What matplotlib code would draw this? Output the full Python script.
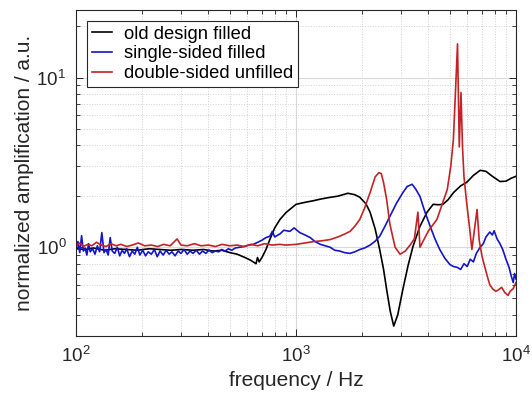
import matplotlib
matplotlib.use('Agg')
import matplotlib.pyplot as plt
from matplotlib import ticker

plt.rcParams['font.family'] = ['Liberation Sans', 'DejaVu Sans']
plt.rcParams['mathtext.fontset'] = 'custom'
plt.rcParams['mathtext.rm'] = 'Liberation Sans'
plt.rcParams['mathtext.it'] = 'Liberation Sans'

# old design filled
f_black = [100, 110, 120, 135, 150, 170, 190, 215, 240, 270, 300, 340, 380, 420, 460,
           500, 540, 586, 620, 658, 668, 680, 700, 730, 760, 800, 846, 900, 937, 1000,
           1100, 1200, 1288, 1400, 1550, 1720, 1850, 1950, 2080, 2170, 2290, 2400, 2500,
           2580, 2680, 2780, 2900, 3060, 3230, 3400, 3650, 3940, 4200, 4450, 4652, 4900,
           5200, 5600, 5960, 6400, 6870, 7300, 7800, 8450, 9000, 9500, 10000]
a_black = [0.98, 0.97, 0.99, 0.96, 0.98, 0.97, 0.96, 0.98, 0.97, 0.96, 0.97, 0.96, 0.97, 0.95, 0.96,
           0.93, 0.91, 0.87, 0.84, 0.80, 0.87, 0.82, 0.87, 0.97, 1.11, 1.30, 1.46, 1.60, 1.67, 1.79,
           1.84, 1.88, 1.92, 1.96, 2.00, 2.08, 2.04, 1.97, 1.80, 1.61, 1.28, 0.97, 0.74,
           0.566, 0.42, 0.343, 0.40, 0.566, 0.78, 1.01, 1.32, 1.61, 1.79, 1.78, 1.79, 1.90,
           2.10, 2.30, 2.41, 2.65, 2.84, 2.80, 2.62, 2.44, 2.45, 2.55, 2.62]

# single-sided filled
f_blue = [100, 102, 104, 106, 108, 110, 112, 114, 116, 119, 122, 125, 128, 131, 134, 137, 140,
          143, 146, 150, 154, 158, 162, 166, 170, 175, 180, 185, 190, 195, 201, 207, 213, 220,
          227, 234, 241, 249, 257, 265, 273, 282, 291, 300, 310, 320, 330, 340, 352, 364, 376,
          389, 402, 416, 430, 445, 460, 476, 493, 510, 530, 556, 580, 610, 640, 670, 700, 730,
          760, 780, 800, 846, 880, 937, 980, 1040, 1100, 1160, 1220, 1290, 1360, 1430, 1500,
          1580, 1660, 1760, 1850, 1950, 2050, 2170, 2280, 2400, 2530, 2670, 2850, 3060, 3200,
          3370, 3500, 3660, 3850, 4070, 4280, 4500, 4750, 5010, 5200, 5420, 5600, 5800, 6000,
          6190, 6400, 6600, 6870, 7100, 7300, 7600, 7800, 7950, 8200, 8450, 8700, 9000, 9300,
          9500, 9710, 9850, 10000]
a_blue = [0.97, 1.08, 0.93, 1.17, 0.95, 0.99, 0.90, 1.05, 0.94, 0.98, 0.91, 1.02, 0.94, 1.22, 0.93, 0.97, 0.90,
          1.14, 0.95, 0.92, 1.00, 0.89, 0.96, 0.92, 0.98, 0.88, 0.95, 0.91, 1.00, 0.90, 0.96, 0.89, 0.94, 0.91,
          0.97, 0.88, 0.95, 0.90, 0.96, 0.91, 0.94, 0.89, 0.95, 0.92, 0.97, 0.91, 0.95, 0.92, 0.96, 0.91, 0.95,
          0.92, 0.96, 0.93, 0.95, 0.94, 0.97, 0.95, 0.98, 0.96, 0.99, 1.00, 1.01, 1.03, 1.04, 1.07, 1.10, 1.14,
          1.16, 1.24, 1.15, 1.20, 1.26, 1.24, 1.30, 1.22, 1.18, 1.14, 1.08, 1.04, 1.02, 1.00, 0.96,
          0.95, 0.93, 0.92, 0.94, 0.97, 0.99, 1.03, 1.08, 1.16, 1.32, 1.52, 1.80, 2.10, 2.28,
          2.35, 2.20, 1.99, 1.62, 1.33, 1.12, 0.97, 0.86, 0.79, 0.77, 0.76, 0.74, 0.80, 0.77,
          0.85, 0.82, 0.92, 1.00, 1.05, 1.15, 1.23, 1.18, 1.25, 1.12, 1.05, 0.97, 0.85, 0.76,
          0.68, 0.62, 0.70, 0.65]

# double-sided unfilled
f_red = [100, 104, 108, 113, 118, 124, 130, 137, 144, 152, 160, 170, 180, 192, 205, 220, 235,
         250, 268, 288, 300, 320, 345, 370, 400, 430, 460, 500, 540, 580, 625, 670, 720, 780,
         840, 900, 1000, 1100, 1200, 1300, 1430, 1550, 1650, 1760, 1850, 1950, 2050, 2170,
         2290, 2380, 2440, 2500, 2580, 2670, 2820, 2970, 3140, 3300, 3450, 3580, 3660, 3800,
         4000, 4370, 4870, 5050, 5190, 5300, 5420, 5520, 5620, 5710, 5800, 5960, 6150, 6300,
         6650, 6800, 7010, 7400, 7600, 7850, 8100, 8300, 8600, 8900, 9200, 9400, 9700, 10000]
a_red = [1.02, 1.06, 1.01, 1.04, 1.02, 1.07, 1.03, 1.01, 1.05, 1.02, 1.04, 1.01, 1.03, 1.06, 1.02, 1.03, 1.01,
         1.04, 1.02, 1.12, 1.03, 1.02, 1.05, 1.02, 1.03, 1.01, 1.04, 1.02, 1.03, 1.01, 1.04, 1.02, 1.05, 1.03,
         1.04, 1.03, 1.04, 1.06, 1.08, 1.09, 1.11, 1.15, 1.19, 1.24, 1.33, 1.46, 1.70, 2.10,
         2.60, 2.75, 2.72, 2.40, 1.92, 1.37, 1.00, 0.91, 0.95, 1.03, 1.12, 1.61, 1.00, 1.10,
         1.25, 1.46, 2.19, 3.00, 4.30, 8.00, 15.8, 3.90, 8.16, 3.90, 2.60, 1.84, 1.30, 0.97,
         1.67, 1.10, 0.88, 0.675, 0.60, 0.566, 0.55, 0.56, 0.58, 0.54, 0.52, 0.55, 0.57, 0.62]

fig = plt.figure(figsize=(5.32, 4.05), dpi=100)
ax = fig.add_axes([0.1429, 0.1704, 0.8271, 0.8049])

ax.plot(f_black, a_black, color='black', lw=1.2, label='old design filled')
ax.plot(f_blue, a_blue, color='#1414c8', lw=1.2, label='single-sided filled')
ax.plot(f_red, a_red, color='#c42326', lw=1.2, label='double-sided unfilled')

ax.set_xscale('log')
ax.set_yscale('log')
ax.set_xlim(100, 10000)
ax.set_ylim(0.3, 25)

ax.xaxis.set_major_locator(ticker.LogLocator(base=10))
ax.yaxis.set_major_locator(ticker.LogLocator(base=10))
ax.xaxis.set_minor_locator(ticker.LogLocator(base=10, subs=range(2, 10)))
ax.yaxis.set_minor_locator(ticker.LogLocator(base=10, subs=range(2, 10)))
ax.xaxis.set_minor_formatter(ticker.NullFormatter())
ax.yaxis.set_minor_formatter(ticker.NullFormatter())

ax.grid(True, which='major', color='#d9d9d9', ls='-', lw=0.8)
ax.grid(True, which='minor', color='#d0d0d0', ls=':', lw=0.7)
ax.set_axisbelow(True)

ax.tick_params(which='both', direction='in', top=True, right=True, colors='#262626',
               labelcolor='#262626', labelsize=13.5, pad=7)
ax.tick_params(which='major', length=5, width=0.7)
ax.tick_params(which='minor', length=3, width=0.6)
for s in ax.spines.values():
    s.set_color('#262626')
    s.set_linewidth(0.8)

ax.set_xlabel('frequency / Hz', fontsize=15, color='#262626', labelpad=4)
ax.set_ylabel('normalized amplification / a.u.', fontsize=15, color='#262626', labelpad=2)

leg = ax.legend(loc='upper left', fontsize=13.2, frameon=True, fancybox=False,
                edgecolor='#262626', handlelength=1.1, handletextpad=0.65,
                borderpad=0.25, labelspacing=0.15, borderaxespad=0.6)
leg.get_frame().set_linewidth(0.8)
leg.get_frame().set_alpha(1)

fig.savefig('out.png', dpi=100)
